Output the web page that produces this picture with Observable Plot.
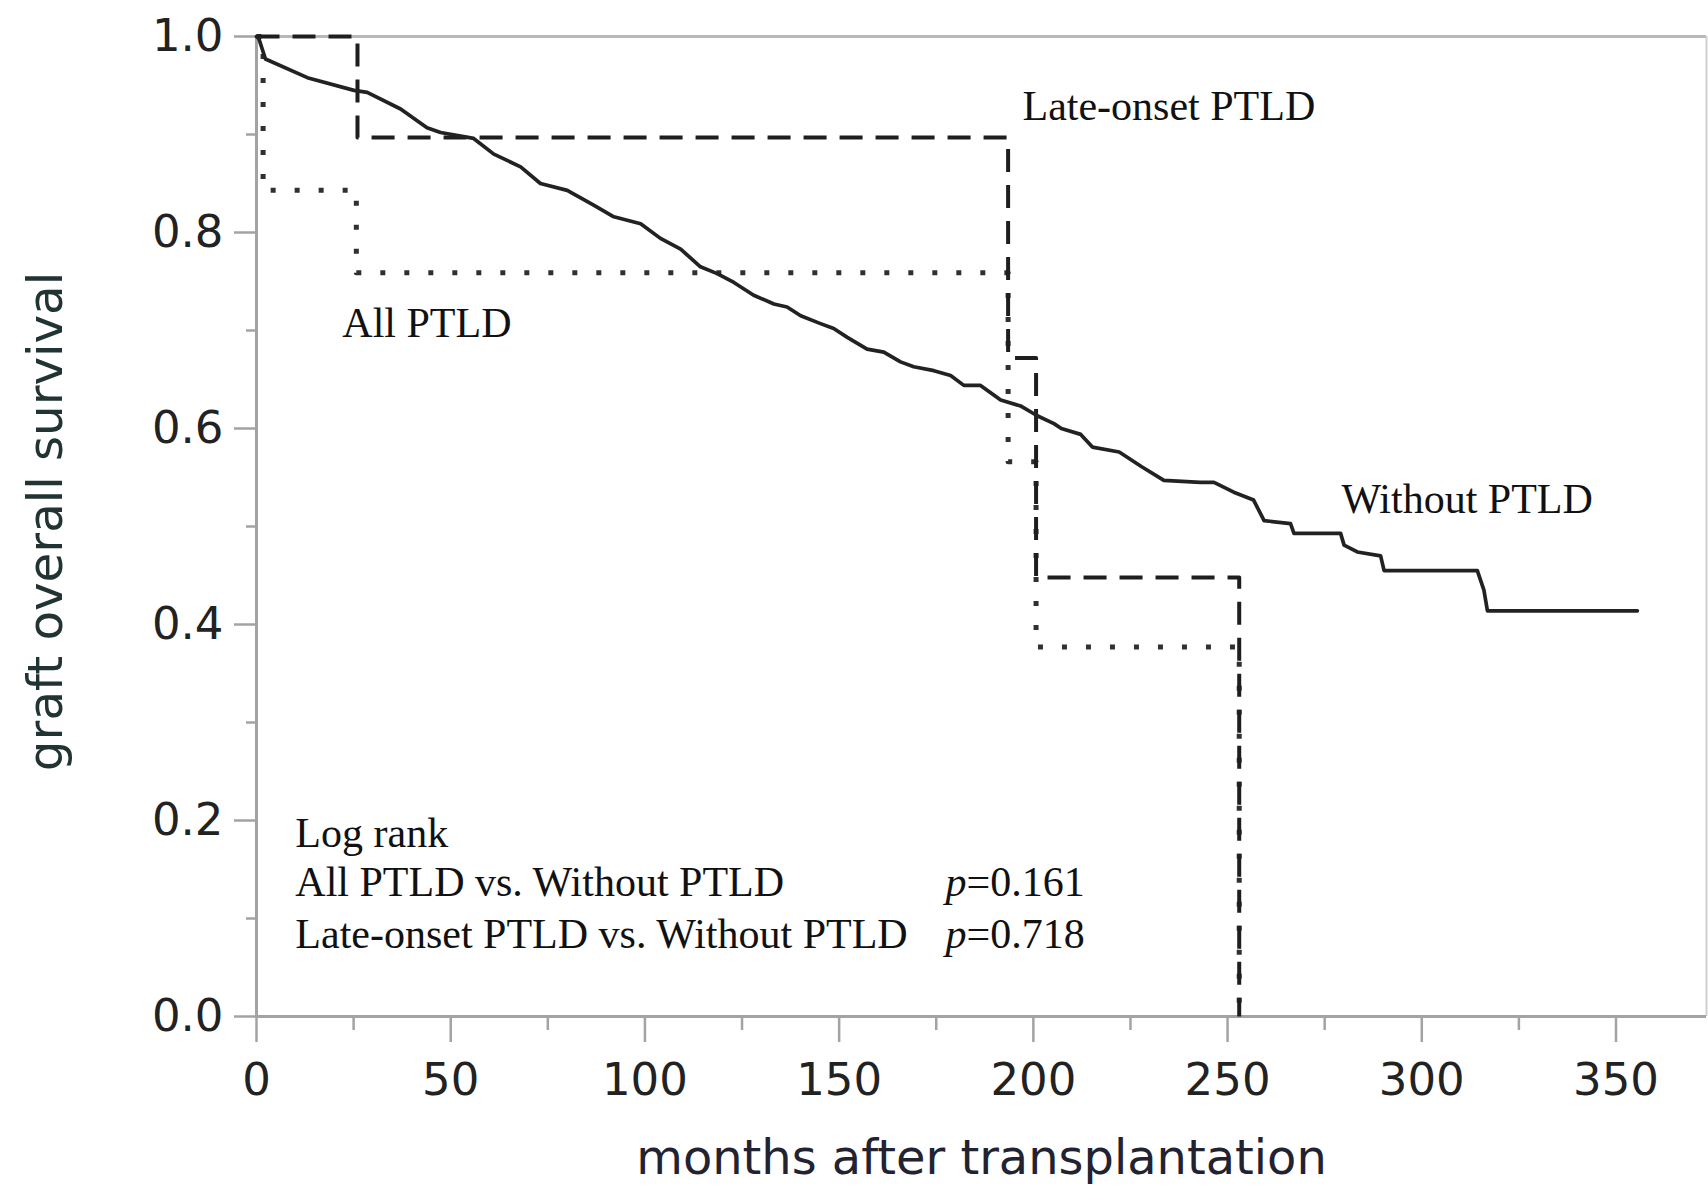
<!DOCTYPE html>
<html>
<head>
<meta charset="utf-8">
<script src="https://cdn.jsdelivr.net/npm/d3@7"></script>
<script src="https://cdn.jsdelivr.net/npm/@observablehq/plot@0.6"></script>
<style>
  html, body { margin: 0; padding: 0; background: #fff; }
  svg { display: block; }
</style>
</head>
<body>
<div id="chart"></div>
<script>
// ---- Data ----
// Without PTLD: Kaplan–Meier curve traced (months, survival)
const withoutMonths = [0, 0.6, 2.3, 13.1, 25.1, 28.5, 37.1, 43.9, 47.4, 55.9, 61.1, 68.0, 73.1, 80.0, 86.8, 92.0, 98.9, 104.0, 109.2, 114.3, 118.6, 122.9, 128.0, 133.2, 136.6, 140.1, 145.2, 148.6, 152.1, 157.2, 161.5, 165.8, 169.2, 174.4, 178.7, 182.1, 186.4, 191.6, 196.7, 201.0, 205.3, 207.2, 212.2, 215.2, 222.1, 227.9, 233.6, 243.0, 246.5, 251.6, 256.7, 259.4, 266.2, 267.1, 279.1, 280.0, 283.4, 289.4, 290.3, 314.3, 316.0, 316.9, 355.5];
const withoutSurvival = [1.000, 0.998, 0.977, 0.958, 0.945, 0.943, 0.926, 0.907, 0.902, 0.896, 0.880, 0.867, 0.850, 0.843, 0.828, 0.816, 0.809, 0.794, 0.783, 0.765, 0.758, 0.749, 0.736, 0.727, 0.724, 0.715, 0.707, 0.702, 0.693, 0.681, 0.678, 0.668, 0.663, 0.659, 0.654, 0.644, 0.644, 0.629, 0.623, 0.613, 0.605, 0.600, 0.594, 0.581, 0.576, 0.561, 0.547, 0.545, 0.545, 0.535, 0.527, 0.506, 0.503, 0.493, 0.493, 0.481, 0.474, 0.470, 0.455, 0.455, 0.435, 0.414, 0.414];

// Late-onset PTLD: step events
const lateMonths = [0, 26.0, 193.5, 200.7, 253.0];
const lateSurvival = [1.000, 0.897, 0.672, 0.448, 0.000];

// All PTLD: step events
const allMonths = [0, 1.7, 25.7, 193.5, 200.7, 253.0];
const allSurvival = [1.000, 0.843, 0.759, 0.566, 0.377, 0.000];

// Axis ticks
const xTicks = [0, 50, 100, 150, 200, 250, 300, 350];
const xMinorTicks = [25, 75, 125, 175, 225, 275, 325];
const yTicks = [0, 0.2, 0.4, 0.6, 0.8, 1.0];
const yMinorTicks = [0.1, 0.3, 0.5, 0.7, 0.9];
const xMax = 373.3;

// Texts
const xLabel = "months after transplantation";
const yLabel = "graft overall survival";
const curveLabels = ["Late-onset PTLD", "All PTLD", "Without PTLD"];
const curveLabelMonths = [197.2, 22.1, 279.3];
const curveLabelSurvival = [0.929, 0.707, 0.528];
const testLines = ["Log rank", "All PTLD vs. Without PTLD", "Late-onset PTLD vs. Without PTLD"];
const testLineSurvival = [0.187, 0.137, 0.084];
const pValues = ["p=0.161", "p=0.718"];
const pValueSurvival = [0.137, 0.084];

// ---- Build tables ----
const toRows = (xs, ys) => xs.map((x, i) => ({x, y: ys[i]}));
const withoutRows = toRows(withoutMonths, withoutSurvival);
const lateRows = toRows(lateMonths, lateSurvival);
const allRows = toRows(allMonths, allSurvival);
const curveLabelRows = curveLabels.map((t, i) => ({t, x: curveLabelMonths[i], y: curveLabelSurvival[i]}));
const testRows = testLines.map((t, i) => ({t, x: 10.0, y: testLineSurvival[i]}));
const pRows = pValues.map((t, i) => ({t, x: 213.2, y: pValueSurvival[i]}));

const axisGray = "#a3a3a3";
const serif = "Liberation Serif, Times New Roman, serif";
const sans = "DejaVu Sans, Verdana, sans-serif";

const chart = Plot.plot({
  width: 1708,
  height: 1189,
  marginLeft: 256,
  marginRight: 2,
  marginTop: 36,
  marginBottom: 173,
  style: {fontFamily: sans, background: "#fff", overflow: "visible"},
  x: {domain: [0, xMax]},
  y: {domain: [0, 1]},
  marks: [
    // frame (top and right)
    Plot.ruleY([1], {stroke: "#b8b8b8", strokeWidth: 3}),
    Plot.ruleX([xMax], {stroke: "#d0d0d0", strokeWidth: 2}),
    // axes
    Plot.axisX({ticks: xTicks, tickSize: 26, tickPadding: 21, stroke: axisGray, strokeWidth: 2.5, fill: "#222", fontSize: 45, fontFamily: sans, tickFormat: d3.format("d"), label: null}),
    Plot.axisX({ticks: xMinorTicks, tickSize: 14, stroke: axisGray, strokeWidth: 2.5, fill: "none", label: null}),
    Plot.axisY({ticks: yTicks, tickSize: 22, tickPadding: 11, stroke: axisGray, strokeWidth: 2.5, fill: "#222", fontSize: 45, fontFamily: sans, tickFormat: d3.format(".1f"), label: null}),
    Plot.axisY({ticks: yMinorTicks, tickSize: 10, stroke: axisGray, strokeWidth: 2.5, fill: "none", label: null}),
    Plot.ruleX([0], {stroke: axisGray, strokeWidth: 3}),
    Plot.ruleY([0], {stroke: axisGray, strokeWidth: 3}),
    // axis labels
    Plot.text([xLabel], {frameAnchor: "bottom", dy: 142, textAnchor: "middle", lineAnchor: "middle", fontSize: 47.9, fontFamily: sans, fill: "#222230", text: d => d}),
    Plot.text([yLabel], {frameAnchor: "left", dx: -210, dy: -5, rotate: -90, textAnchor: "middle", lineAnchor: "middle", fontSize: 48.3, fontFamily: sans, fill: "#223333", text: d => d}),
    // curves
    Plot.line(allRows, {x: "x", y: "y", curve: "step-after", stroke: "#303030", strokeWidth: 5, strokeDasharray: "5,19", strokeLinecap: "butt"}),
    Plot.line(lateRows, {x: "x", y: "y", curve: "step-after", stroke: "#1e1e1e", strokeWidth: 4, strokeDasharray: "23,13", strokeLinecap: "butt"}),
    Plot.line(withoutRows, {x: "x", y: "y", curve: "linear", stroke: "#222", strokeWidth: 3.7, strokeLinejoin: "round"}),
    // annotations
    Plot.text(curveLabelRows, {x: "x", y: "y", text: "t", textAnchor: "start", lineAnchor: "middle", fontSize: 42, fontFamily: serif, fill: "#111"}),
    Plot.text(testRows, {x: "x", y: "y", text: "t", textAnchor: "start", lineAnchor: "middle", fontSize: 42, fontFamily: serif, fill: "#111"}),
    Plot.text(pRows, {x: "x", y: "y", text: "t", textAnchor: "end", lineAnchor: "middle", fontSize: 42, fontFamily: serif, fill: "#111"})
  ]
});

// italic "p" in p-values (keep real text)
chart.querySelectorAll("text").forEach(t => {
  const s = t.textContent;
  if (/^p=/.test(s) && t.children.length === 0) {
    t.textContent = "";
    const ns = "http://www.w3.org/2000/svg";
    const a = document.createElementNS(ns, "tspan");
    a.setAttribute("font-style", "italic");
    a.textContent = "p";
    const b = document.createElementNS(ns, "tspan");
    b.textContent = s.slice(1);
    t.append(a, b);
  }
});

document.getElementById("chart").append(chart);
</script>
</body>
</html>
